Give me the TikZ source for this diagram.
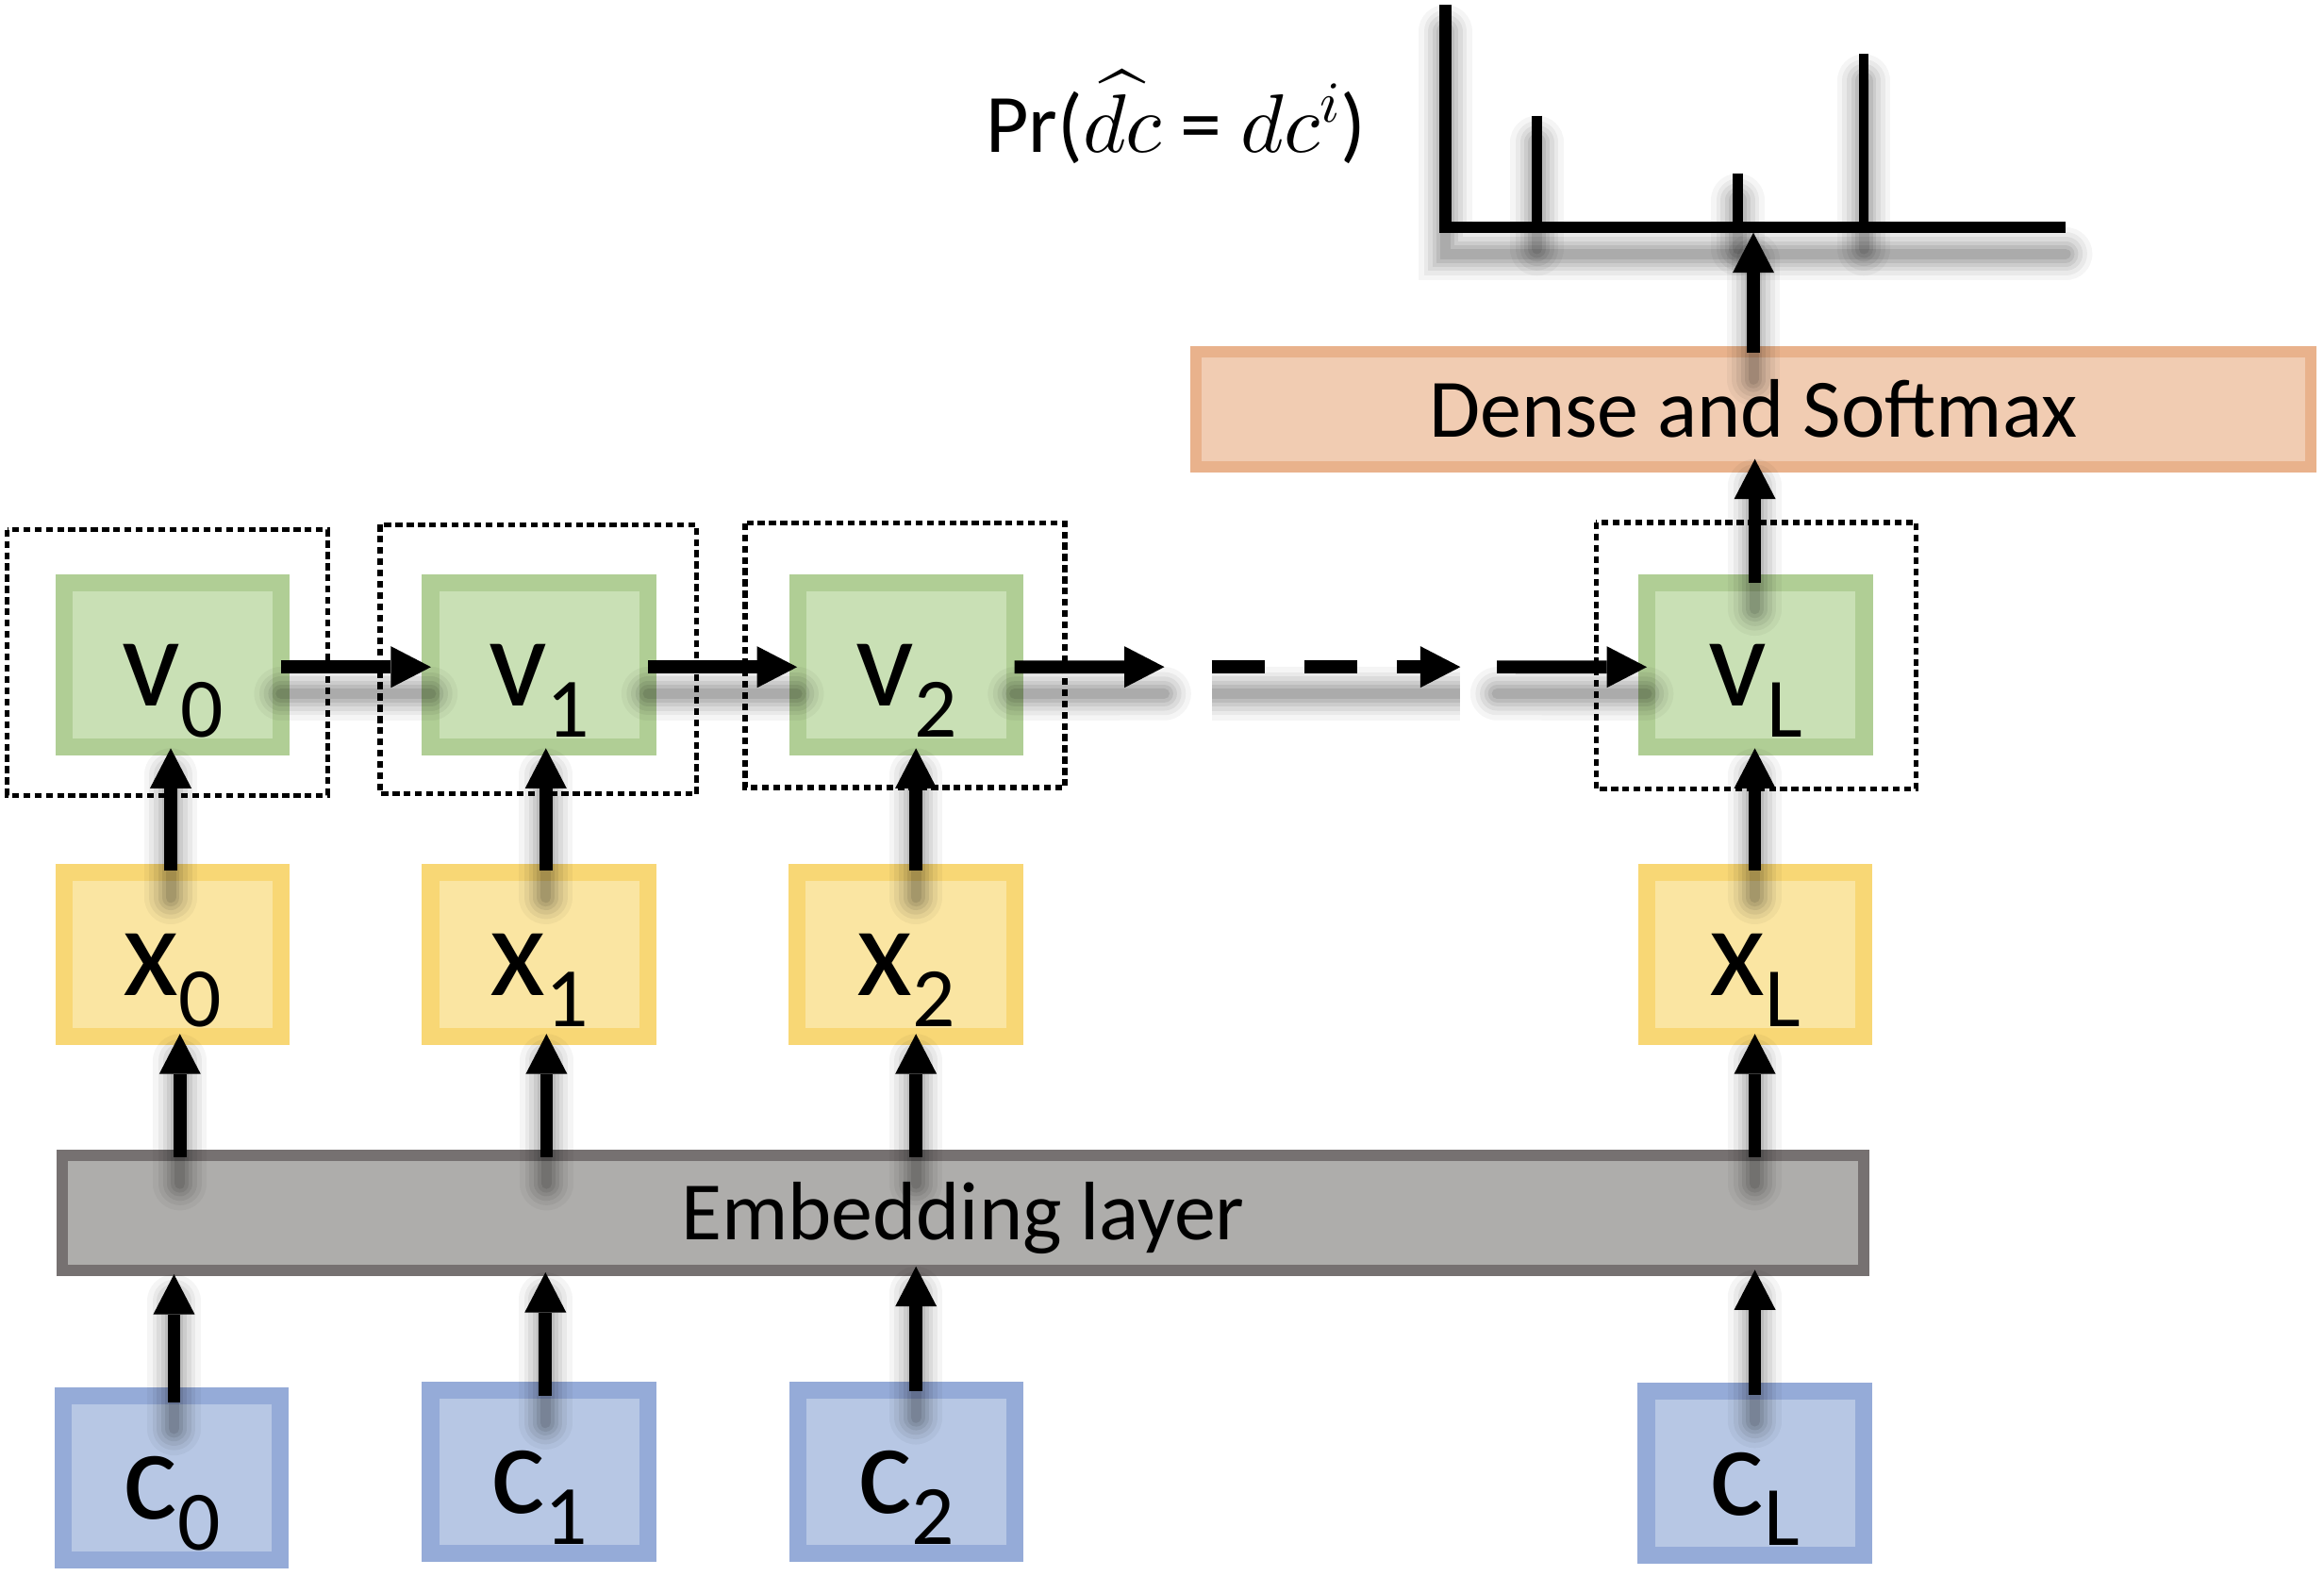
\RequirePackage{fix-cm}
\documentclass[tikz,border=0pt]{standalone}
\usepackage{fontspec}
\setmainfont{Carlito}
\DeclareFontShape{OMX}{cmex}{m}{n}{<->cmex10}{}
\DeclareFontShape{OML}{cmm}{m}{it}{<->cmmi10}{}
\usetikzlibrary{arrows.meta,calc}
\definecolor{gB}{RGB}{176,206,149}
\definecolor{gF}{RGB}{201,224,181}
\definecolor{yB}{RGB}{248,215,117}
\definecolor{yF}{RGB}{250,229,162}
\definecolor{bB}{RGB}{149,171,216}
\definecolor{bF}{RGB}{183,199,228}
\definecolor{eB}{RGB}{118,113,113}
\definecolor{eF}{RGB}{174,173,171}
\definecolor{oB}{RGB}{233,178,140}
\definecolor{oF}{RGB}{241,204,178}
\newcommand\blab[2]{{\fontsize{87}{87}\selectfont #1\raisebox{-20.8pt}{\fontsize{57}{57}\selectfont #2}}}
\tikzset{
  smallbox/.style={draw, line width=11.5pt, minimum width=146.5pt, minimum height=110.5pt,
    inner sep=0pt, text height=56pt, text depth=0pt},
  vbox/.style={smallbox, draw=gB, fill=gF},
  xbox/.style={smallbox, draw=yB, fill=yF},
  cbox/.style={smallbox, draw=bB, fill=bF},
  widebox/.style={draw, line width=7.6pt, inner sep=0pt, text height=37pt, text depth=0pt,
    font=\fontsize{56}{60}\selectfont},
  dotbox/.style={draw=black, line width=3.4pt, dash pattern=on 4.6pt off 3pt},
  shl/.style n args={3}{preaction={-, draw=black, opacity=#2, line width=#1, line cap=#3,
    transform canvas={yshift=-18pt}}},
  shd/.style={shl={36pt}{0.04}{round}, shl={29pt}{0.05}{round}, shl={23pt}{0.06}{round},
    shl={17pt}{0.07}{round}, shl={12pt}{0.08}{round}, shl={7pt}{0.09}{round}},
  shdb/.style={shl={36pt}{0.04}{butt}, shl={29pt}{0.05}{butt}, shl={23pt}{0.06}{butt},
    shl={17pt}{0.07}{butt}, shl={12pt}{0.08}{butt}, shl={7pt}{0.09}{butt}},
  tip/.style={-{Triangle[length=27pt,width=28pt,line width=0pt]}},
  arr/.style={line width=8.7pt, tip, shd},
  darr/.style={line width=8.7pt, tip, shdb},
  chartline/.style={line width=7.8pt, shd},
}
\begin{document}
\begin{tikzpicture}[x=1pt,y=-1pt]
\useasboundingbox (0,0) rectangle (1568,1063);

% boxes
\node[cbox] (c0) at (115.8,997) {\blab{c}{0}};
\node[cbox] (c1) at (363.75,993) {\blab{c}{1}};
\node[cbox] (c2) at (611.35,993) {\blab{c}{2}};
\node[cbox] (cL) at (1184,994) {\blab{c}{L}};

\node[xbox] (x0) at (116.5,643.9) {\blab{x}{0}};
\node[xbox] (x1) at (363.75,643.9) {\blab{x}{1}};
\node[xbox] (x2) at (611.25,643.9) {\blab{x}{2}};
\node[xbox] (xL) at (1184.25,643.9) {\blab{x}{L}};

\node[vbox] (v0) at (116.5,448.55) {\blab{v}{0}};
\node[vbox] (v1) at (363.75,448.55) {\blab{v}{1}};
\node[vbox] (v2) at (611.5,448.55) {\blab{v}{2}};
\node[vbox] (vL) at (1184.5,448.55) {\blab{v}{L}};

\node[widebox, draw=eB, fill=eF, minimum width=1215.1pt, minimum height=77.5pt] (emb) at (649.65,818.25) {Embedding layer};
\node[widebox, draw=oB, fill=oF, minimum width=752.4pt, minimum height=77.9pt] (dense) at (1183,276.25) {Dense and Softmax};

% dotted frames
\draw[dotbox] (4.9,357.4) rectangle (221,536.6);
\draw[dotbox] (256.5,354) rectangle (470,535.6);
\draw[dotbox] (502.7,353) rectangle (718.5,531.4);
\draw[dotbox] (1077,352.5) rectangle (1292.6,532.4);

% label
\node[anchor=base west, inner sep=0pt, font=\fontsize{56}{60}\selectfont] (lab) at (665,103) {Pr($\widehat{dc}$ = $dc^{i}$)};

% chart
\coordinate (axtop) at (975.2,3.2);
\coordinate (axcorner) at (975.2,153.3);
\coordinate (axend) at (1393.7,153.3);
\coordinate (axb) at (1183,157);
\coordinate (b1t) at (1037,78);
\coordinate (b1b) at (1037,150);
\coordinate (b2t) at (1172.5,117);
\coordinate (b2b) at (1172.5,150);
\coordinate (b3t) at (1257.5,36.5);
\coordinate (b3b) at (1257.5,150);
\draw[chartline, line join=miter] (axtop) -- (axcorner) -- (axend);
\draw[chartline, line width=6.8pt] (b1t) -- (b1b);
\draw[chartline, line width=6.8pt] (b2t) -- (b2b);
\draw[chartline, line width=6.8pt] (b3t) -- (b3b);

% vertical arrows: c -> embedding
\draw[arr] ($(c0.north)+(1.6,10)$) -- ($(c0.north |- emb.south)+(1.6,-1)$);
\draw[arr] ($(c1.north)+(4.25,10)$) -- ($(c1.north |- emb.south)+(4.25,-2.3)$);
\draw[arr] ($(c2.north)+(6.65,6.6)$) -- ($(c2.north |- emb.south)+(6.65,-6.3)$);
\draw[arr] ($(cL.north)+(0,8)$) -- ($(cL.north |- emb.south)+(0,-4)$);

% embedding -> x
\draw[arr] ($(x0.south |- emb.north)+(4.9,5)$) -- ($(x0.south)+(4.9,-7.3)$);
\draw[arr] ($(x1.south |- emb.north)+(4.95,5)$) -- ($(x1.south)+(4.95,-7.3)$);
\draw[arr] ($(x2.south |- emb.north)+(6.75,5)$) -- ($(x2.south)+(6.75,-7.3)$);
\draw[arr] ($(xL.south |- emb.north)+(-0.25,5)$) -- ($(xL.south)+(-0.25,-7.3)$);

% x -> v
\draw[arr] ($(x0.north)+(-1.3,4.7)$) -- ($(v0.south)+(-1.3,-4.7)$);
\draw[arr] ($(x1.north)+(4.55,4.7)$) -- ($(v1.south)+(4.55,-4.7)$);
\draw[arr] ($(x2.north)+(6.75,4.7)$) -- ($(v2.south)+(6.5,-4.7)$);
\draw[arr] ($(xL.north)+(-0.25,4.7)$) -- ($(vL.south)+(-0.5,-4.7)$);

% vL -> dense -> chart
\draw[arr] ($(vL.north)+(-0.5,5.4)$) -- ($(vL.north |- dense.south)+(-0.5,-9.3)$);
\draw[arr] ($(dense.north)+(0,4.5)$) -- (axb);

% horizontal chain
\coordinate (h1) at (785.6,450);
\coordinate (h2) at (817.6,450);
\coordinate (h3) at (985.3,450);
\coordinate (h4) at (1010,450);
\draw[arr] ($(v0.east)+(-6,1.5)$) -- ($(v1.west)+(6,1.5)$);
\draw[arr] ($(v1.east)+(-5.5,1.5)$) -- ($(v2.west)+(5.3,1.5)$);
\draw[arr] ($(v2.east)+(-6,1.5)$) -- (h1);
\draw[darr, dash pattern=on 35.8pt off 26.6pt] (h2) -- (h3);
\draw[arr] (h4) -- ($(vL.west)+(5.6,1.5)$);
\end{tikzpicture}
\end{document}
